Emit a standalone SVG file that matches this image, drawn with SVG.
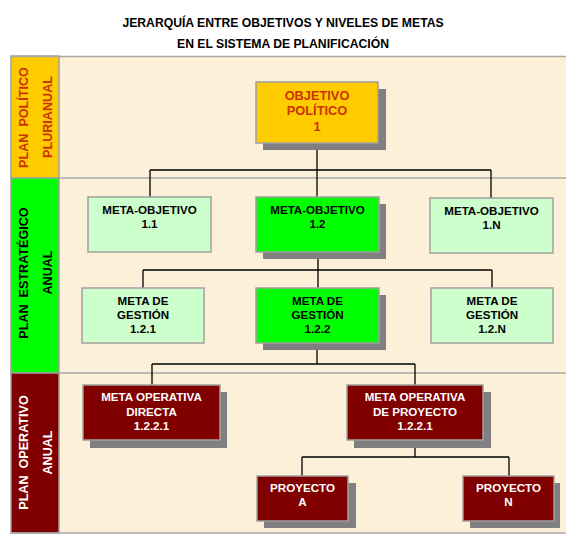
<svg xmlns="http://www.w3.org/2000/svg" width="566" height="534" viewBox="0 0 566 534">
<style>
text{font-family:"Liberation Sans",Arial,sans-serif;font-weight:bold;text-anchor:middle}
.t{font-size:12.2px;fill:#000}
.n{font-size:11.6px}
.np{font-size:12.8px;fill:#cc3300}
.dk{fill:#000}
.wh{fill:#fff}
.side{font-size:12.6px}
.sh{fill:#808080}
.b{stroke:#a0a0a0;stroke-width:1.5}
.pol{fill:#ffcc00}
.lg{fill:#ccffcc}
.g{fill:#00ff00}
.m{fill:#800000}
.c{fill:none;stroke:#000;stroke-width:1.3}
.sep{stroke:#a8a8a8;stroke-width:1.5;fill:none}
</style>
<rect width="566" height="534" fill="#fff"/>
<text class="t" x="283" y="27">JERARQUÍA ENTRE OBJETIVOS Y NIVELES DE METAS</text>
<text class="t" x="283" y="48">EN EL SISTEMA DE PLANIFICACIÓN</text>
<g id="frame">
<rect x="59" y="56" width="507" height="477" fill="#fcf0d8"/>
<rect x="11" y="56" width="48" height="122" fill="#ffcc00" class="b"/>
<rect x="11" y="178" width="48" height="195" fill="#00ff00" class="b"/>
<rect x="11" y="373" width="48" height="160" fill="#800000" class="b"/>
<path class="sep" d="M11 56.5H566M59 178H566M59 373H566M11 533H566"/>
</g>
<g id="band-politico">
<text class="side" fill="#cc3300" transform="translate(28 117.5) rotate(-90)" xml:space="preserve">PLAN  POLÍTICO</text>
<text class="side" fill="#cc3300" transform="translate(52 117) rotate(-90)">PLURIANUAL</text>
</g>
<g id="band-estrategico">
<text class="side dk" transform="translate(28 273) rotate(-90)" xml:space="preserve">PLAN  ESTRATÉGICO</text>
<text class="side dk" transform="translate(52 272.5) rotate(-90)">ANUAL</text>
</g>
<g id="band-operativo">
<text class="side wh" transform="translate(28 452.5) rotate(-90)" xml:space="preserve">PLAN  OPERATIVO</text>
<text class="side wh" transform="translate(52 452.5) rotate(-90)">ANUAL</text>
</g>
<g id="connectors">
<path class="c" d="M317 143V170M150 170H491M150 170V197M317 170V197M491 170V198"/>
<path class="c" d="M318 252V270M143 270H492M143 270V288M318 270V288M492 270V288"/>
<path class="c" d="M317 343V364M152 364H415M152 364V385M415 364V385"/>
<path class="c" d="M415 440V457M302 457H509M302 457V476M509 457V476"/>
</g>
<g id="obj1">
<rect class="sh" x="263" y="89" width="123" height="61"/>
<rect class="pol b" x="256" y="82" width="122" height="61"/>
<text class="np" x="317" y="99.5">OBJETIVO</text>
<text class="np" x="317" y="115">POLÍTICO</text>
<text class="np" x="317" y="130.5">1</text>
</g>
<g id="mo11">
<rect class="lg b" x="88" y="197" width="123" height="55"/>
<text class="n dk" x="149.5" y="214">META-OBJETIVO</text>
<text class="n dk" x="149.5" y="228">1.1</text>
</g>
<g id="mo12">
<rect class="sh" x="263" y="204" width="123" height="55"/>
<rect class="g b" x="256" y="197" width="123" height="55"/>
<text class="n dk" x="317.5" y="214">META-OBJETIVO</text>
<text class="n dk" x="317.5" y="228">1.2</text>
</g>
<g id="mo1n">
<rect class="lg b" x="430" y="198" width="123" height="55"/>
<text class="n dk" x="491.5" y="214.5">META-OBJETIVO</text>
<text class="n dk" x="491.5" y="228.5">1.N</text>
</g>
<g id="mg121">
<rect class="lg b" x="82" y="288" width="122" height="55"/>
<text class="n dk" x="143" y="305">META DE</text>
<text class="n dk" x="143" y="319">GESTIÓN</text>
<text class="n dk" x="143" y="333">1.2.1</text>
</g>
<g id="mg122">
<rect class="sh" x="263" y="295" width="123" height="55"/>
<rect class="g b" x="256" y="288" width="123" height="55"/>
<text class="n dk" x="317.5" y="305">META DE</text>
<text class="n dk" x="317.5" y="319">GESTIÓN</text>
<text class="n dk" x="317.5" y="333">1.2.2</text>
</g>
<g id="mg12n">
<rect class="lg b" x="431" y="288" width="122" height="55"/>
<text class="n dk" x="492" y="305">META DE</text>
<text class="n dk" x="492" y="319">GESTIÓN</text>
<text class="n dk" x="492" y="333">1.2.N</text>
</g>
<g id="mod">
<rect class="sh" x="90" y="392" width="137" height="56"/>
<rect class="m b" x="83" y="385" width="137" height="55"/>
<text class="n wh" x="151.5" y="401">META OPERATIVA</text>
<text class="n wh" x="151.5" y="416">DIRECTA</text>
<text class="n wh" x="151.5" y="430">1.2.2.1</text>
</g>
<g id="mop">
<rect class="sh" x="354" y="392" width="137" height="56"/>
<rect class="m b" x="347" y="385" width="136" height="55"/>
<text class="n wh" x="415" y="401">META OPERATIVA</text>
<text class="n wh" x="415" y="416">DE PROYECTO</text>
<text class="n wh" x="415" y="430">1.2.2.1</text>
</g>
<g id="pa">
<rect class="sh" x="264" y="483" width="92" height="45"/>
<rect class="m b" x="257" y="476" width="91" height="45"/>
<text class="n wh" x="302.5" y="492">PROYECTO</text>
<text class="n wh" x="302.5" y="506">A</text>
</g>
<g id="pn">
<rect class="sh" x="470" y="483" width="90" height="45"/>
<rect class="m b" x="463" y="476" width="91" height="45"/>
<text class="n wh" x="508.5" y="492">PROYECTO</text>
<text class="n wh" x="508.5" y="506">N</text>
</g>
</svg>
